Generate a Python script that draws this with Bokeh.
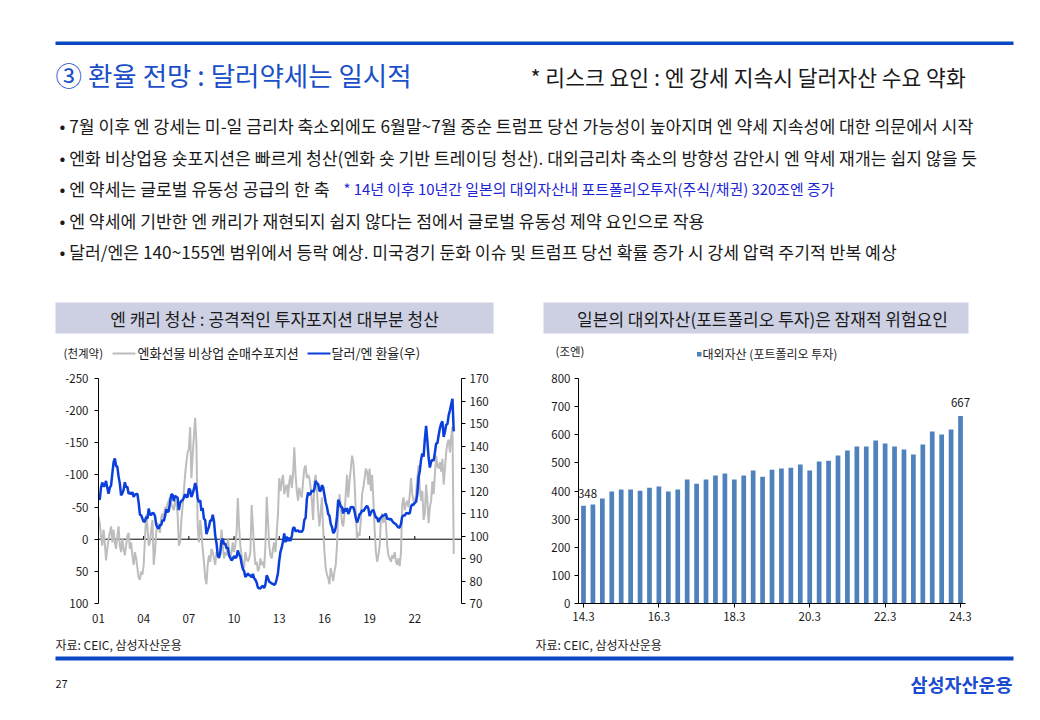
from bokeh.plotting import figure
from bokeh.models import Range1d, LinearAxis, FixedTicker, Span, Label
from bokeh.layouts import column, row
from bokeh.embed import file_html
from bokeh.resources import INLINE
from bokeh.core.properties import value

FONT = "Noto Sans CJK KR"

# ---------------- data ----------------
title_text = "③ 환율 전망 : 달러약세는 일시적"
risk_text = "* 리스크 요인 : 엔 강세 지속시 달러자산 수요 약화"
bullets = [
    "• 7월 이후 엔 강세는 미-일 금리차 축소외에도 6월말~7월 중순 트럼프 당선 가능성이 높아지며 엔 약세 지속성에  대한 의문에서  시작",
    "• 엔화 비상업용 숏포지션은 빠르게 청산(엔화 숏 기반 트레이딩 청산). 대외금리차 축소의 방향성 감안시 엔 약세 재개는 쉽지 않을 듯",
    "• 엔 약세는 글로벌 유동성 공급의 한 축",
    "• 엔 약세에 기반한 엔 캐리가 재현되지 쉽지 않다는 점에서 글로벌 유동성 제약 요인으로 작용",
    "• 달러/엔은 140~155엔 범위에서 등락 예상. 미국경기 둔화 이슈 및 트럼프 당선 확률 증가 시 강세 압력 주기적 반복 예상",
]
note_text = "* 14년 이후 10년간 일본의 대외자산내 포트폴리오투자(주식/채권) 320조엔 증가"
left_title = "엔 캐리 청산 : 공격적인 투자포지션 대부분 청산"
right_title = "일본의 대외자산(포트폴리오 투자)은 잠재적 위험요인"
left_unit = "(천계약)"
left_series_names = ["엔화선물 비상업 순매수포지션", "달러/엔 환율(우)"]
right_unit = "(조엔)"
right_series_name = "대외자산 (포트폴리오 투자)"
source_text = "자료: CEIC, 삼성자산운용"
page_no = "27"
logo_text = "삼성자산운용"

start_year = 2001
# USD/JPY, monthly (Jan 2001 - Aug 2024)
usdjpy = [
    116.7, 116.2, 121.5, 123.8, 122.0, 122.4, 124.5, 121.4, 118.8, 121.5, 122.4, 127.6,  # 2001
    132.7, 134.5, 131.1, 130.8, 126.4, 123.3, 118.1, 119.0, 120.5, 123.9, 121.6, 121.9,  # 2002
    118.8, 119.3, 118.6, 119.5, 117.4, 118.3, 118.7, 118.7, 114.8, 109.5, 109.2, 107.7,  # 2003
    106.3, 106.6, 108.5, 107.7, 112.2, 109.4, 109.4, 110.2, 110.1, 108.9, 104.9, 103.8,  # 2004
    103.3, 104.9, 104.9, 107.2, 106.6, 108.8, 111.9, 110.6, 111.2, 114.9, 118.5, 118.5,  # 2005
    115.5, 117.9, 117.3, 117.1, 111.5, 114.6, 115.6, 115.9, 117.0, 118.6, 117.3, 117.3,  # 2006
    121.0, 120.5, 117.3, 118.8, 120.8, 123.5, 121.6, 116.8, 115.0, 115.9, 111.2, 112.4,  # 2007
    107.6, 107.1, 100.8, 102.6, 104.1, 106.9, 106.8, 109.4, 106.6, 100.1, 96.9, 91.3,    # 2008
    90.4, 92.5, 97.8, 98.8, 96.4, 96.6, 94.5, 94.9, 91.4, 90.3, 89.1, 89.9,              # 2009
    91.1, 90.2, 90.7, 93.6, 91.8, 90.9, 87.7, 85.4, 84.4, 81.8, 82.5, 83.3,              # 2010
    82.6, 82.5, 81.6, 83.2, 81.2, 80.5, 79.3, 77.1, 76.8, 76.7, 77.5, 77.8,              # 2011
    76.9, 78.5, 82.5, 81.3, 79.7, 79.3, 78.9, 78.7, 78.2, 78.9, 80.9, 83.6,              # 2012
    89.0, 93.1, 94.9, 97.7, 101.1, 97.2, 99.7, 97.8, 99.2, 97.8, 100.0, 103.5,           # 2013
    103.8, 102.1, 102.3, 102.5, 101.8, 102.1, 101.8, 102.9, 107.2, 108.0, 116.4, 119.3,  # 2014
    118.3, 118.8, 120.4, 119.6, 120.8, 124.5, 123.3, 123.1, 120.1, 120.0, 122.6, 121.6,  # 2015
    118.2, 115.0, 113.0, 109.8, 109.0, 105.4, 104.0, 101.3, 101.9, 103.8, 108.6, 116.1,  # 2016
    114.9, 113.0, 112.9, 110.0, 112.2, 110.9, 112.4, 109.8, 111.0, 112.9, 112.8, 112.9,  # 2017
    110.9, 107.9, 106.0, 107.6, 109.7, 110.1, 111.5, 111.0, 111.9, 112.8, 113.4, 112.3,  # 2018
    108.9, 110.4, 111.2, 111.6, 109.8, 108.1, 108.2, 106.2, 107.5, 108.2, 108.9, 109.1,  # 2019
    109.3, 109.9, 107.5, 107.8, 107.3, 107.6, 106.7, 106.0, 105.6, 105.2, 104.4, 103.8,  # 2020
    103.8, 105.4, 108.7, 109.1, 109.1, 110.1, 110.2, 109.9, 110.2, 113.1, 114.0, 113.9,  # 2021
    114.8, 115.2, 118.5, 126.2, 128.9, 134.0, 136.7, 135.3, 143.1, 149.0, 142.3, 134.9,  # 2022
    130.4, 133.0, 133.9, 133.5, 137.0, 141.2, 141.2, 144.8, 147.9, 150.0, 151.0, 144.0,  # 2023
    146.3, 149.5, 149.7, 153.7, 155.9, 158.5, 161.0, 146.5,                              # 2024
]
# Yen futures non-commercial net position (thousand contracts), monthly
yen_net = [
    -36, -25, -5, 10, -15, 5, 33, 15, 0, -10, -20, 5,            # 2001
    -15, 5, 15, -5, -20, 10, 20, 0, 15, 25, 10, -5,              # 2002
    -10, 15, 5, 25, 40, 20, 30, 45, 60, 63, 50, 55,              # 2003
    40, 0, -38, -20, 10, 5, -15, -30, 40, 20, -10, -25,          # 2004
    -20, -10, -35, -40, -30, -50, -45, -55, -60, -65, -55, -50,  # 2005
    -45, -60, -55, -40, 10, 5, -30, -50, -75, -100, -120, -135,  # 2006
    -140, -174, -95, -130, -160, -189, -150, -20, 5, -30, -10, 15,  # 2007
    35, 60, 70, 40, 25, 35, 15, 20, 30, 40, 20, 25,              # 2008
    30, 15, -15, 10, 30, 20, 25, 0, 15, 30, 20, 5,               # 2009
    20, 10, -10, -64, -20, 10, 25, 40, 45, 20, 30, 35,           # 2010
    30, 20, -53, -20, 15, 40, 35, 50, 45, 30, 40, 35,            # 2011
    45, 10, -66, -30, 10, 25, 30, 15, 5, 20, -10, -40,           # 2012
    -95, -75, -90, -100, -70, -80, -85, -65, -90, -100, -80, -100,  # 2013
    -143, -100, -75, -60, -80, -70, -65, -90, -110, -115, -95, -100,  # 2014
    -95, -80, -60, -30, -90, -100, -75, -45, -20, -40, -65, -15,  # 2015
    20, 45, 55, 60, 70, 45, 55, 65, 50, 40, 10, -40,             # 2016
    -70, -50, -25, -20, -40, -70, -100, -65, -90, -110, -130, -120,  # 2017
    -90, -40, 0, -10, -5, -30, -70, -80, -95, -110, -105, -85,   # 2018
    -110, -75, -100, -60, -15, 20, 35, 25, 10, -30, -40, -25,    # 2019
    -35, -25, 10, 25, 30, 35, 25, 30, 20, 35, 40, 30,            # 2020
    42, 20, -55, -65, -45, -55, -60, -50, -70, -95, -70, -60,    # 2021
    -55, -70, -95, -115, -80, -60, -75, -30, -40, -85, -60, -25,  # 2022
    -50, -60, -90, -70, -100, -130, -115, -110, -120, -105, -125, -85,  # 2023
    -110, -135, -150, -155, -135, -160, -175, 23,                # 2024
]
left_ticks = [-250, -200, -150, -100, -50, 0, 50, 100]
left_tick_labels = ["-250", "-200", "-150", "-100", "-50", "0", "50", "100"]
right_ticks = [70, 80, 90, 100, 110, 120, 130, 140, 150, 160, 170]
x_tick_years = [2001, 2004, 2007, 2010, 2013, 2016, 2019, 2022]
x_tick_labels = ["01", "04", "07", "10", "13", "16", "19", "22"]

# Japan external portfolio assets (trillion yen), quarterly 2014.3 - 2024.3
quarters = [f"{y}.{m}" for y in range(14, 25) for m in (3, 6, 9, 12)][:41]
assets = [348, 352, 373, 398, 405, 405, 401, 412, 416, 398, 405,
          441, 426, 441, 455, 462, 441, 455, 473, 451, 476, 480,
          483, 494, 473, 505, 508, 526, 544, 558, 558, 580, 569,
          558, 548, 530, 565, 612, 601, 619, 667]
bar_ticks = [0, 8, 16, 24, 32, 40]
asset_ticks = [0, 100, 200, 300, 400, 500, 600, 700, 800]

# ---------------- styles ----------------
BLUE_LINE = "#0b46c4"
TITLE_BLUE = "#1a4fc8"
BOX = "#cdd0e3"
GRAY = "#bdbdbd"
FX_BLUE = "#0a3fdc"
BAR = "#4f81bd"
TXT = "#1a1a1a"


def slide_fig(width, height, y_top, y_bot):
    f = figure(width=width, height=height, x_range=Range1d(0, width),
               y_range=Range1d(y_bot, y_top), toolbar_location=None,
               output_backend="svg", min_border=0, outline_line_color=None)
    f.axis.visible = False
    f.xgrid.visible = False
    f.ygrid.visible = False
    return f


def txt(f, x, y, s, size, color=TXT, align="left", style="normal"):
    f.text(x=[x], y=[y], text=[s], text_font=value(FONT),
           text_font_size=value(size), text_color=color, text_align=align,
           text_baseline="middle", text_font_style=style)


# ---------------- header ----------------
head = slide_fig(1032, 362, 0, 362)
head.quad(left=[55], right=[1013], top=[41], bottom=[44.5], color=BLUE_LINE, line_color=None)
txt(head, 55, 74, title_text, "26.5px", TITLE_BLUE)
txt(head, 530, 76, risk_text, "21.5px", TXT)
bullet_y = [125, 156.5, 188, 219.5, 251]
for s, yy in zip(bullets, bullet_y):
    txt(head, 59, yy, s, "17.2px", TXT)
txt(head, 343, 188, note_text, "14.9px", "#1c24d6")

head.quad(left=[55, 543], right=[493, 968], top=[302, 302], bottom=[333, 333],
          color=BOX, line_color=None)
txt(head, 274, 317.5, left_title, "17px", TXT, "center")
txt(head, 762, 317.5, right_title, "17px", TXT, "center")

txt(head, 63, 352, left_unit, "11.5px", TXT)
head.segment(x0=[112], y0=[353], x1=[135], y1=[353], line_color=GRAY, line_width=2)
txt(head, 137, 352, left_series_names[0], "13px", TXT)
head.segment(x0=[307], y0=[353], x1=[330], y1=[353], line_color=FX_BLUE, line_width=2)
txt(head, 331, 352, left_series_names[1], "13px", TXT)

txt(head, 555, 350, right_unit, "11.5px", TXT)
head.quad(left=[696.5], right=[701], top=[351.5], bottom=[356], color=BAR, line_color=None)
txt(head, 702, 353, right_series_name, "12px", TXT)

# ---------------- left chart ----------------
months = [start_year + i / 12 for i in range(len(usdjpy))]

pl = figure(width=536, height=270, x_range=Range1d(2001, 2025.1),
            y_range=Range1d(100, -250), toolbar_location=None, output_backend="svg",
            min_border_left=98, min_border_right=75, min_border_top=13,
            min_border_bottom=28, outline_line_color=None)
pl.xgrid.visible = False
pl.ygrid.visible = False
pl.extra_y_ranges = {"fx": Range1d(70, 170)}
pl.add_layout(Span(location=0, dimension="width", line_color="black",
                   line_width=1, level="underlay"))
pl.segment(x0=x_tick_years, x1=x_tick_years, y0=[0] * len(x_tick_years),
           y1=[-5] * len(x_tick_years), line_color="black", line_width=1)
pl.line(months, yen_net, line_color=GRAY, line_width=2)
pl.line(months, usdjpy, line_color=FX_BLUE, line_width=2.5, y_range_name="fx")

ax_r = LinearAxis(y_range_name="fx", ticker=FixedTicker(ticks=right_ticks))
pl.add_layout(ax_r, "right")
pl.yaxis[0].ticker = FixedTicker(ticks=left_ticks)
pl.yaxis[0].major_label_overrides = {k: v for k, v in zip(left_ticks, left_tick_labels)}
pl.xaxis.ticker = FixedTicker(ticks=x_tick_years)
pl.xaxis.major_label_overrides = {k: v for k, v in zip(x_tick_years, x_tick_labels)}
pl.xaxis.axis_line_color = None
pl.xaxis.major_tick_line_color = None
pl.xaxis.minor_tick_line_color = None
pl.xaxis.major_label_standoff = 4
for ax in pl.yaxis:
    ax.axis_line_color = "black"
    ax.major_tick_out = 4
    ax.major_tick_in = 0
    ax.minor_tick_line_color = None
pl.yaxis[0].major_label_standoff = 6
ax_r.major_label_standoff = 4
for ax in pl.axis:
    ax.major_label_text_font = FONT
    ax.major_label_text_font_size = "11.5px"
    ax.major_label_text_color = TXT

# ---------------- right chart ----------------
# frame extends a little past the last bar so its label is not clipped;
# the x axis line is bounded to the category span.
cat_lo, cat_hi = -0.53, 40.53
idx = list(range(len(assets)))
pr = figure(width=496, height=270, x_range=Range1d(cat_lo, 42.65),
            y_range=Range1d(0, 800), toolbar_location=None, output_backend="svg",
            min_border_left=42, min_border_right=47, min_border_top=16,
            min_border_bottom=29, outline_line_color=None)
pr.xgrid.visible = False
pr.ygrid.visible = False
pr.vbar(x=idx, top=assets, width=0.5, color=BAR, line_color=None)
for i, dx, dy in ((0, 4, 8), (len(assets) - 1, 0, 9)):
    pr.add_layout(Label(x=idx[i], y=assets[i], text=str(assets[i]), x_offset=dx,
                        y_offset=dy, text_font=FONT, text_font_size="11.5px",
                        text_color=TXT, text_align="center", text_baseline="bottom"))
pr.xaxis.ticker = FixedTicker(ticks=bar_ticks)
pr.xaxis.major_label_overrides = {i: quarters[i] for i in bar_ticks}
pr.xaxis.bounds = (cat_lo, cat_hi)
pr.yaxis.ticker = FixedTicker(ticks=asset_ticks)
for ax in pr.axis:
    ax.axis_line_color = "black"
    ax.major_tick_out = 4
    ax.major_tick_in = 0
    ax.minor_tick_line_color = None
    ax.major_label_standoff = 4
    ax.major_label_text_font = FONT
    ax.major_label_text_font_size = "11.5px"
    ax.major_label_text_color = TXT

# ---------------- footer ----------------
foot = slide_fig(1032, 80, 632, 712)
txt(foot, 55, 644, source_text, "12px", TXT)
txt(foot, 535, 644, source_text, "12px", TXT)
foot.quad(left=[55], right=[1013], top=[656], bottom=[660], color=BLUE_LINE, line_color=None)
txt(foot, 55, 683, page_no, "11px", TXT)
txt(foot, 1012, 683, logo_text, "18.5px", "#1a4bd0", "right", "bold")

layout = column(head, row(pl, pr), foot)
open("out.html", "w").write(file_html(layout, INLINE))
